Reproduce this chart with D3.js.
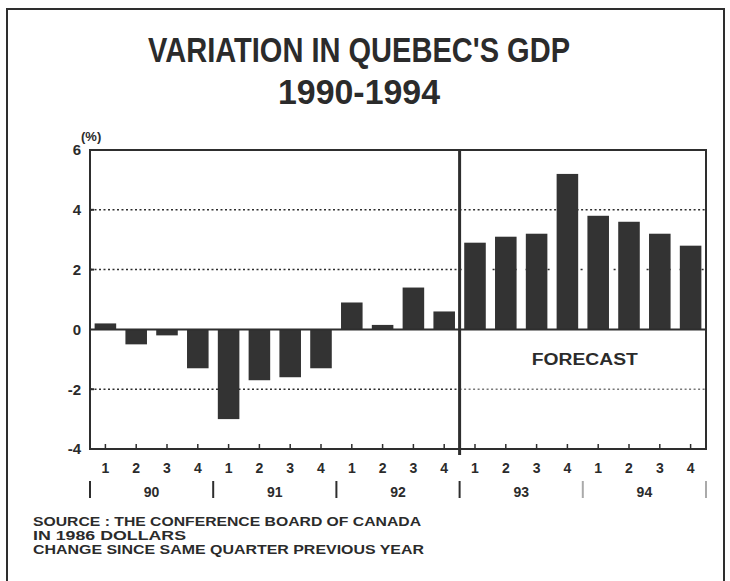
<!DOCTYPE html>
<html>
<head>
<meta charset="utf-8">
<script src="https://cdn.jsdelivr.net/npm/d3@7/dist/d3.min.js"></script>
<style>
  html, body { margin: 0; padding: 0; background: #fff; }
  svg { display: block; }
  text { font-family: "Liberation Sans", Arial, Helvetica, sans-serif; fill: #2b2b2b; }
</style>
</head>
<body>
<svg id="chart" width="730" height="581"></svg>
<script>
// ---- Data ----
const years = ["90", "91", "92", "93", "94"];
const quarterLabels = ["1", "2", "3", "4"];
const categories = years.flatMap(y => quarterLabels.map(q => y + "Q" + q));
const values = [0.2, -0.5, -0.2, -1.3, -3.0, -1.7, -1.6, -1.3, 0.9, 0.15, 1.4, 0.6,
                2.9, 3.1, 3.2, 5.2, 3.8, 3.6, 3.2, 2.8];
const yTicks = [-4, -2, 0, 2, 4, 6];
const gridValues = [4, 2, -2];
const forecastStart = "93Q1";
const titleLines = ["VARIATION IN QUEBEC'S GDP", "1990-1994"];
const unitLabel = "(%)";
const forecastLabel = "FORECAST";
const footerLines = ["SOURCE : THE CONFERENCE BOARD OF CANADA", "IN 1986 DOLLARS",
                     "CHANGE SINCE SAME QUARTER PREVIOUS YEAR"];

// ---- Layout ----
const svg = d3.select("#chart");
const ink = "#2e2e2e";
const plot = { left: 90, right: 706, top: 150, bottom: 449 };

svg.append("rect").attr("width", 730).attr("height", 581).attr("fill", "#fff");

// outer frame
svg.append("path")
  .attr("d", "M7,581 L7,9 L724,9 L724,581")
  .attr("fill", "none").attr("stroke", ink).attr("stroke-width", 2);

const x = d3.scaleBand().domain(categories).range([plot.left, plot.right])
  .paddingInner(0.3).paddingOuter(0.15);
const y = d3.scaleLinear().domain([-4, 6]).range([plot.bottom, plot.top]);

const step = x.step();
const fx = x(forecastStart) - step * x.paddingInner() / 2;

// title
svg.append("text").attr("x", 359).attr("y", 62).attr("text-anchor", "middle")
  .attr("font-size", 35).attr("font-weight", "bold")
  .attr("textLength", 422).attr("lengthAdjust", "spacingAndGlyphs")
  .text(titleLines[0]);
svg.append("text").attr("x", 359).attr("y", 104).attr("text-anchor", "middle")
  .attr("font-size", 35).attr("font-weight", "bold")
  .attr("textLength", 162).attr("lengthAdjust", "spacingAndGlyphs")
  .text(titleLines[1]);

// grid lines (dotted)
gridValues.forEach(v => {
  svg.append("line")
    .attr("x1", plot.left).attr("x2", fx)
    .attr("y1", y(v)).attr("y2", y(v))
    .attr("stroke", ink).attr("stroke-width", 1.5).attr("stroke-dasharray", "2,2.5");
  svg.append("line")
    .attr("x1", fx).attr("x2", plot.right)
    .attr("y1", y(v)).attr("y2", y(v))
    .attr("stroke", v === -2 ? "#777" : ink)
    .attr("stroke-width", 1.5)
    .attr("stroke-dasharray", v === 2 ? "2,9" : "2,2.5");
});

// bars
svg.append("g").selectAll("rect").data(categories).join("rect")
  .attr("x", d => x(d))
  .attr("width", x.bandwidth())
  .attr("y", (d, i) => y(Math.max(0, values[i])))
  .attr("height", (d, i) => Math.abs(y(values[i]) - y(0)))
  .attr("fill", "#333");

// zero line
svg.append("line").attr("x1", plot.left).attr("x2", plot.right)
  .attr("y1", y(0)).attr("y2", y(0)).attr("stroke", ink).attr("stroke-width", 2);

// plot frame
svg.append("rect").attr("x", plot.left).attr("y", plot.top)
  .attr("width", plot.right - plot.left).attr("height", plot.bottom - plot.top)
  .attr("fill", "none").attr("stroke", ink).attr("stroke-width", 2);

// forecast divider
svg.append("line").attr("x1", fx).attr("x2", fx)
  .attr("y1", plot.top).attr("y2", plot.bottom + 6)
  .attr("stroke", ink).attr("stroke-width", 3);

svg.append("text").attr("x", (fx + plot.right) / 2 + 2).attr("y", y(-1) + 6)
  .attr("text-anchor", "middle").attr("font-size", 16).attr("font-weight", "bold")
  .attr("textLength", 106).attr("lengthAdjust", "spacingAndGlyphs")
  .text(forecastLabel);

// y axis ticks & labels
const yAxis = d3.axisLeft(y).tickValues(yTicks).tickSize(0).tickPadding(9)
  .tickFormat(d => d);
const gy = svg.append("g").attr("transform", `translate(${plot.left},0)`).call(yAxis);
gy.select(".domain").remove();
gy.selectAll("text").attr("font-size", 15).attr("font-weight", "900")
  .style("font-family", "'Liberation Sans', Arial, sans-serif").attr("fill", "#222");
svg.append("g").selectAll("line").data(gridValues).join("line")
  .attr("x1", plot.left).attr("x2", plot.left + 4)
  .attr("y1", d => y(d)).attr("y2", d => y(d))
  .attr("stroke", ink).attr("stroke-width", 2);

svg.append("text").attr("x", plot.left - 9).attr("y", plot.top - 9)
  .attr("font-size", 13).attr("font-weight", "bold").text(unitLabel);

// x axis ticks (upward)
svg.append("g").selectAll("line").data(categories).join("line")
  .attr("x1", d => x(d) + x.bandwidth() / 2).attr("x2", d => x(d) + x.bandwidth() / 2)
  .attr("y1", plot.bottom).attr("y2", plot.bottom - 5)
  .attr("stroke", ink).attr("stroke-width", 1.5);

// quarter labels
svg.append("g").selectAll("text").data(categories).join("text")
  .attr("x", d => x(d) + x.bandwidth() / 2)
  .attr("y", 473).attr("text-anchor", "middle")
  .attr("font-size", 14).attr("font-weight", "bold")
  .text(d => d.split("Q")[1]);

// year separators and labels
const yearEdges = years.map((yr, i) => plot.left + i * 4 * step).concat([plot.right]);
svg.append("g").selectAll("line").data(yearEdges).join("line")
  .attr("x1", d => d).attr("x2", d => d)
  .attr("y1", 481).attr("y2", 498)
  .attr("stroke", (d, i) => i >= 4 ? "#aaa" : ink).attr("stroke-width", 2);
svg.append("g").selectAll("text").data(years).join("text")
  .attr("x", (d, i) => (yearEdges[i] + yearEdges[i + 1]) / 2)
  .attr("y", 497).attr("text-anchor", "middle")
  .attr("font-size", 14).attr("font-weight", "bold")
  .text(d => d);

// footer
const footerWidths = [388, 153, 391];
footerLines.forEach((t, i) => {
  svg.append("text").attr("x", 33).attr("y", 526 + i * 14)
    .attr("font-size", 12.5).attr("font-weight", "bold")
    .attr("textLength", footerWidths[i]).attr("lengthAdjust", "spacingAndGlyphs")
    .text(t);
});
</script>
</body>
</html>
